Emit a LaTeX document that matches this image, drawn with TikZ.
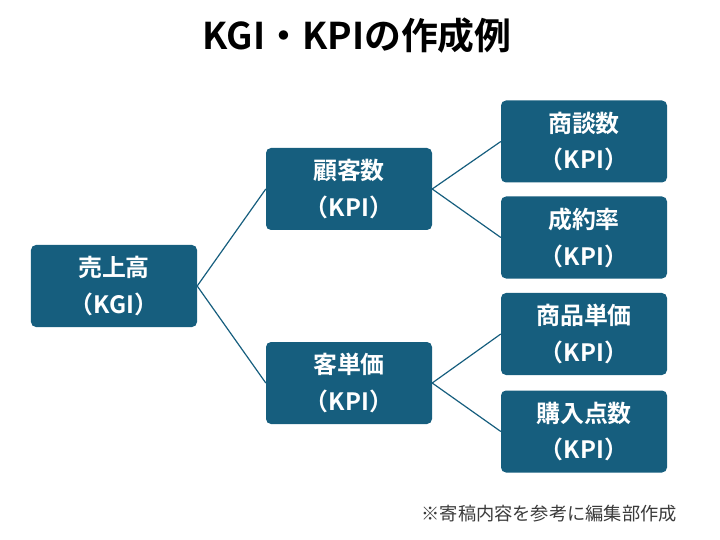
\documentclass[tikz,border=0pt]{standalone}
\usepackage{fontspec}
\setmainfont{Noto Sans CJK JP}
\newfontfamily\jpbold{Noto Sans CJK JP Bold}
\newfontfamily\jpreg{Noto Sans CJK JP}
\definecolor{boxblue}{HTML}{165E7E}
\definecolor{notegray}{HTML}{3A3A3A}
\begin{document}
\begin{tikzpicture}[x=1bp,y=-1bp,
  kbox/.style={draw=none,fill=boxblue,rounded corners=5bp,minimum width=166bp,minimum height=82bp,
    text=white,align=center,font=\jpbold\fontsize{24}{37}\selectfont,inner sep=0pt},
  link/.style={draw=boxblue,line width=1.2bp}]
\useasboundingbox (0,0) rectangle (720,540);
\node[font=\jpbold\fontsize{37}{40}\selectfont] (title) at (357,36) {KGI・KPIの作成例};
\node[kbox] (root) at (114,286) {売上高\\（KGI）};
\node[kbox] (cust) at (349,189) {顧客数\\（KPI）};
\node[kbox] (unit) at (349,383) {客単価\\（KPI）};
\node[kbox] (a1) at (584,141.5) {商談数\\（KPI）};
\node[kbox] (a2) at (584,237.5) {成約率\\（KPI）};
\node[kbox] (b1) at (584,334) {商品単価\\（KPI）};
\node[kbox] (b2) at (584,431.5) {購入点数\\（KPI）};
\draw[link] (root.east) -- (cust.west);
\draw[link] (root.east) -- (unit.west);
\draw[link] (cust.east) -- (a1.west);
\draw[link] (cust.east) -- (a2.west);
\draw[link] (unit.east) -- (b1.west);
\draw[link] (unit.east) -- (b2.west);
\node[anchor=east,text=notegray,font=\jpreg\fontsize{18.3}{20}\selectfont,inner sep=0pt] (note) at (677,514) {※寄稿内容を参考に編集部作成};
\end{tikzpicture}
\end{document}
